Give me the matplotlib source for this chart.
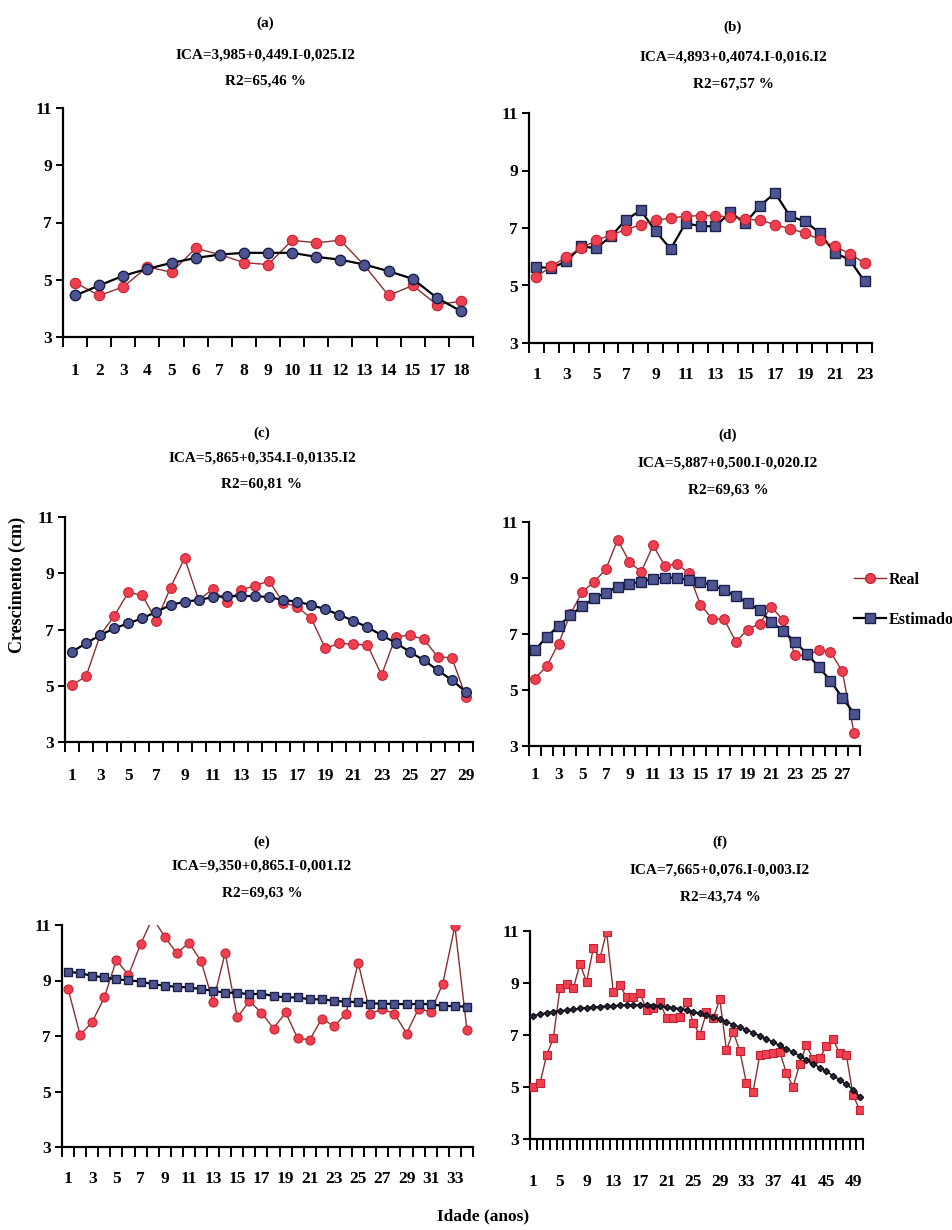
import matplotlib
matplotlib.use("Agg")
import matplotlib.pyplot as plt
from matplotlib.lines import Line2D
from matplotlib.ticker import FixedLocator, NullFormatter

# ---------------- data ----------------
ages_a = [1, 2, 3, 4, 5, 6, 7, 8, 9, 10, 11, 12, 13, 14, 15, 17, 18]
real_a = [4.90, 4.45, 4.75, 5.45, 5.26, 6.10, 5.88, 5.60, 5.53, 6.38, 6.29, 6.38, 5.50, 4.45, 4.80, 4.13, 4.25]
est_a = [4.45, 4.80, 5.14, 5.38, 5.59, 5.76, 5.88, 5.94, 5.94, 5.94, 5.80, 5.70, 5.53, 5.30, 5.03, 4.37, 3.90]

ages_b = list(range(1, 24))
real_b = [5.30, 5.67, 5.99, 6.30, 6.57, 6.76, 6.94, 7.12, 7.27, 7.35, 7.41, 7.43, 7.43, 7.38, 7.31, 7.27,
          7.12, 6.97, 6.83, 6.59, 6.36, 6.11, 5.78]
est_b = [5.64, 5.61, 5.84, 6.36, 6.30, 6.71, 7.29, 7.61, 6.88, 6.27, 7.17, 7.06, 7.06, 7.54, 7.17, 7.78,
         8.22, 7.41, 7.23, 6.83, 6.13, 5.90, 5.14]

ages_c = list(range(1, 30))
real_c = [5.02, 5.34, 6.80, 7.48, 8.32, 8.21, 7.31, 8.49, 9.54, 8.05, 8.43, 7.97, 8.41, 8.55, 8.73, 7.96,
          7.81, 7.40, 6.33, 6.51, 6.47, 6.45, 5.38, 6.74, 6.80, 6.65, 6.03, 5.99, 4.60]
est_c = [6.21, 6.51, 6.80, 7.04, 7.22, 7.40, 7.63, 7.87, 7.99, 8.05, 8.15, 8.19, 8.19, 8.19, 8.15, 8.05,
         7.99, 7.87, 7.72, 7.52, 7.31, 7.08, 6.80, 6.53, 6.21, 5.91, 5.55, 5.20, 4.78]

ages_d = list(range(1, 29))
real_d = [5.41, 5.85, 6.66, 7.71, 8.50, 8.86, 9.31, 10.37, 9.57, 9.22, 10.17, 9.42, 9.51, 9.18, 8.05, 7.55,
          7.53, 6.72, 7.16, 7.37, 7.97, 7.49, 6.24, 6.24, 6.42, 6.36, 5.67, 3.45]
est_d = [6.42, 6.90, 7.28, 7.67, 7.99, 8.27, 8.48, 8.68, 8.80, 8.86, 8.98, 9.01, 9.01, 8.92, 8.86, 8.74,
         8.56, 8.35, 8.11, 7.85, 7.43, 7.11, 6.72, 6.30, 5.83, 5.33, 4.73, 4.16]

ages_e = list(range(1, 35))
real_e = [8.71, 7.03, 7.51, 8.39, 9.74, 9.19, 10.31, 11.25, 10.58, 9.98, 10.36, 9.70, 8.23, 10.00, 7.67, 8.26,
          7.84, 7.27, 7.85, 6.91, 6.87, 7.63, 7.35, 7.81, 9.64, 7.81, 7.96, 7.81, 7.09, 7.99, 7.87, 8.89,
          10.96, 7.21]
est_e = [9.32, 9.26, 9.17, 9.11, 9.04, 9.01, 8.96, 8.87, 8.81, 8.77, 8.75, 8.69, 8.63, 8.56, 8.56, 8.50,
         8.53, 8.44, 8.39, 8.39, 8.32, 8.32, 8.27, 8.23, 8.23, 8.17, 8.17, 8.15, 8.15, 8.15, 8.15, 8.08,
         8.08, 8.05]

ages_f = list(range(1, 51))
real_f = [5.01, 5.14, 6.23, 6.87, 8.79, 8.96, 8.79, 9.73, 9.05, 10.33, 9.95, 10.97, 8.67, 8.92, 8.45, 8.45,
          8.63, 7.96, 8.03, 8.28, 7.64, 7.64, 7.71, 8.28, 7.48, 7.00, 7.88, 7.64, 8.37, 6.42, 7.13, 6.40,
          5.14, 4.82, 6.23, 6.27, 6.29, 6.36, 5.53, 5.01, 5.88, 6.62, 6.06, 6.10, 6.58, 6.85, 6.29, 6.23,
          4.69, 4.12]
est_f = [7.75, 7.80, 7.85, 7.90, 7.93, 7.96, 7.99, 8.02, 8.05, 8.07, 8.09, 8.11, 8.13, 8.14, 8.15, 8.15,
         8.15, 8.14, 8.13, 8.11, 8.08, 8.05, 8.01, 7.96, 7.90, 7.83, 7.76, 7.68, 7.60, 7.50, 7.40, 7.30,
         7.20, 7.08, 6.97, 6.85, 6.72, 6.60, 6.47, 6.33, 6.20, 6.05, 5.90, 5.75, 5.60, 5.43, 5.27, 5.10,
         4.90, 4.62]

panel_letters = ["(a)", "(b)", "(c)", "(d)", "(e)", "(f)"]
equations = ["ICA=3,985+0,449.I-0,025.I2", "ICA=4,893+0,4074.I-0,016.I2",
             "ICA=5,865+0,354.I-0,0135.I2", "ICA=5,887+0,500.I-0,020.I2",
             "ICA=9,350+0,865.I-0,001.I2", "ICA=7,665+0,076.I-0,003.I2"]
r2_texts = ["R2=65,46 %", "R2=67,57 %", "R2=60,81 %", "R2=69,63 %", "R2=69,63 %", "R2=43,74 %"]
yticks = [3, 5, 7, 9, 11]
series_labels = ["Real", "Estimado"]
ylabel_text = "Crescimento (cm)"
xlabel_text = "Idade (anos)"

# ---------------- style ----------------
FONT = ["Liberation Serif", "DejaVu Serif"]
plt.rcParams["font.family"] = FONT
plt.rcParams["font.weight"] = "bold"

RED_FACE = "#f0404f"
RED_EDGE = "#c42233"
RED_LINE = "#8a3030"
BLUE_FACE = "#4c5592"
BLUE_EDGE = "#1c1f4a"

W, H = 953, 1230
fig = plt.figure(figsize=(W / 100, H / 100), dpi=100)
fig.patch.set_facecolor("white")


def add_axes_px(l, t, r, b):
    return fig.add_axes([l / W, 1 - b / H, (r - l) / W, (b - t) / H])


# (left, top, right, bottom), title centre x, title rows y, label step, x pad
panels = [
    dict(box=(63, 108, 473, 337), tx=265, ty=(23, 55, 81), ages=ages_a, real=real_a, est=est_a,
         step=1, pad=19, ms=7.5, red_top=False, fmark="o", emark="o", ems=7.5),
    dict(box=(529, 113, 872, 343), tx=733, ty=(27, 57, 84), ages=ages_b, real=real_b, est=est_b,
         step=2, pad=17, ms=7.5, red_top=True, fmark="o", emark="s", ems=7),
    dict(box=(65, 517, 473, 742), tx=262, ty=(433, 458, 484), ages=ages_c, real=real_c, est=est_c,
         step=2, pad=19, ms=7, red_top=False, fmark="o", emark="o", ems=7),
    dict(box=(529, 522, 860, 746), tx=728, ty=(435, 463, 490), ages=ages_d, real=real_d, est=est_d,
         step=2, pad=15, ms=7, red_top=False, fmark="o", emark="s", ems=6.5),
    dict(box=(62, 925, 473, 1147), tx=262, ty=(842, 866, 893), ages=ages_e, real=real_e, est=est_e,
         step=2, pad=17, ms=6.5, red_top=False, fmark="o", emark="s", ems=6),
    dict(box=(530, 931, 863, 1139), tx=720, ty=(842, 870, 897), ages=ages_f, real=real_f, est=est_f,
         step=4, pad=25, ms=5.5, red_top=False, fmark="s", emark="D", ems=3.2),
]

for i, p in enumerate(panels):
    ax = add_axes_px(*p["box"])
    n = len(p["ages"])
    xs = list(range(1, n + 1))
    zr, ze = (4, 3) if p["red_top"] else (3, 4)
    if i == 5:
        ax.plot(xs, p["est"], color="#1a1a2a", lw=1.2, marker=p["emark"], ms=p["ems"],
                mfc="#2a2a3a", mec="#101018", zorder=ze)
    else:
        ax.plot(xs, p["est"], color="black", lw=1.6, marker=p["emark"], ms=p["ems"],
                mfc=BLUE_FACE, mec=BLUE_EDGE, mew=1.0, zorder=ze)
    ax.plot(xs, p["real"], color=RED_LINE, lw=1.0, marker=p["fmark"], ms=p["ms"],
            mfc=RED_FACE, mec=RED_EDGE, mew=0.8, zorder=zr)

    ax.set_xlim(0.5, n + 0.5)
    ax.set_ylim(3, 11)
    for s in ("top", "right"):
        ax.spines[s].set_visible(False)
    for s in ("left", "bottom"):
        ax.spines[s].set_linewidth(1.6)
    ax.set_yticks(yticks)
    ax.set_yticklabels([str(v) for v in yticks])
    lab_pos = xs[::p["step"]]
    ax.xaxis.set_major_locator(FixedLocator(lab_pos))
    ax.set_xticklabels([str(p["ages"][k - 1]) for k in lab_pos])
    ax.xaxis.set_minor_locator(FixedLocator([k + 0.5 for k in range(0, n + 1)]))
    ax.xaxis.set_minor_formatter(NullFormatter())
    ax.tick_params(axis="x", which="major", length=0, pad=p["pad"], labelsize=12.5)
    ax.tick_params(axis="x", which="minor", length=7 if i != 5 else 8, width=1.4, direction="out")
    ax.tick_params(axis="y", which="major", length=5, width=1.4, pad=3, labelsize=12.5)
    for lab in ax.get_xticklabels() + ax.get_yticklabels():
        lab.set_fontweight("bold")

    fig.text(p["tx"] / W, 1 - p["ty"][0] / H, panel_letters[i], ha="center", va="center",
             fontsize=11, fontweight="bold")
    fig.text(p["tx"] / W, 1 - p["ty"][1] / H, equations[i], ha="center", va="center",
             fontsize=11, fontweight="bold")
    fig.text(p["tx"] / W, 1 - p["ty"][2] / H, r2_texts[i], ha="center", va="center",
             fontsize=11, fontweight="bold")

# axis titles
fig.text(17 / W, 1 - 585 / H, ylabel_text, rotation=90, ha="center", va="center",
         fontsize=13, fontweight="bold")
fig.text(483 / W, 1 - 1216 / H, xlabel_text, ha="center", va="center",
         fontsize=12.5, fontweight="bold")

# legend
handles = [
    Line2D([], [], color=RED_LINE, lw=1.0, marker="o", ms=7, mfc=RED_FACE, mec=RED_EDGE),
    Line2D([], [], color="black", lw=1.6, marker="s", ms=6.5, mfc=BLUE_FACE, mec=BLUE_EDGE),
]
fig.legend(handles, series_labels, loc="center left", bbox_to_anchor=(854 / W, 1 - 600 / H),
           frameon=False, borderpad=0, borderaxespad=0, handlelength=2.0, handletextpad=0.2,
           labelspacing=1.5, prop=dict(family=FONT, weight="bold", size=11.5))

fig.savefig("out.png", dpi=100, facecolor="white")
